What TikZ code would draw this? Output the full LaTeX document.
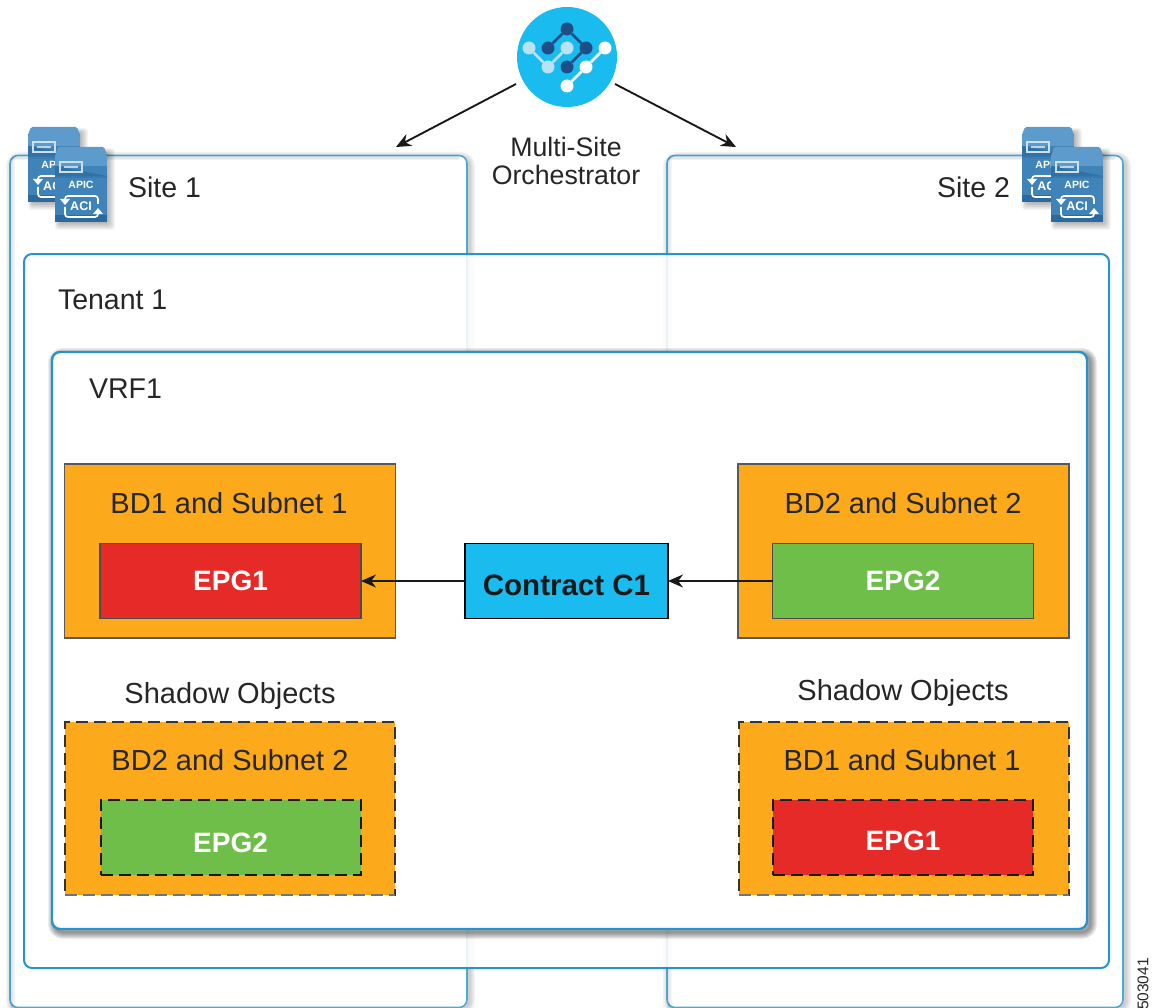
\documentclass[tikz,border=0pt]{standalone}
\usepackage{fontspec}
\setmainfont{Liberation Sans}
\usetikzlibrary{arrows.meta,positioning}
\definecolor{linebl}{HTML}{2494CC}
\definecolor{sitebl}{HTML}{4FA9CF}
\definecolor{orangeb}{HTML}{FCA91C}
\definecolor{redb}{HTML}{E52A27}
\definecolor{greenb}{HTML}{6FBE4A}
\definecolor{cyanb}{HTML}{1ABBEE}
\definecolor{icontop}{HTML}{5C9BCB}
\definecolor{iconmid}{HTML}{3F83B8}
\definecolor{icondark}{HTML}{2A6A9E}
\definecolor{netdark}{HTML}{1D4F86}
\definecolor{netlight}{HTML}{B9E3F5}
\newcommand{\txt}[1]{\fontsize{#1}{#1}\selectfont}
\newcommand{\lowr}[2]{\raisebox{0pt}[#1][0pt]{#2}}
\tikzset{
  x=1pt,y=-1pt,
  boxbase/.style={rectangle,inner sep=0pt,outer sep=0pt,anchor=center},
  sitebox/.style={boxbase,draw=sitebl,line width=1.6pt,rounded corners=8pt,fill=white,minimum width=#1,minimum height=852pt},
  tenantbox/.style={boxbase,draw=linebl,line width=2pt,rounded corners=8pt,fill=white,fill opacity=.88,minimum width=1085pt,minimum height=714pt},
  vrfbox/.style={boxbase,draw=linebl,line width=2.4pt,rounded corners=8pt,fill=white,minimum width=1035pt,minimum height=577pt},
  bdbox/.style={boxbase,draw=black!65,line width=1.5pt,fill=orangeb,minimum width=331pt,minimum height=174pt},
  bdshadow/.style={boxbase,draw=black!80,line width=2pt,dash pattern=on 12pt off 6pt,fill=orangeb,minimum width=330pt,minimum height=173pt},
  bdshadowedge/.style={draw=black!55,line width=2pt,dash pattern=on 12pt off 6pt},
  epgbox/.style={boxbase,draw=black!70,line width=1.5pt,fill=#1,minimum width=261pt,minimum height=75pt,text=white,font=\txt{28}\bfseries},
  epgshadow/.style={boxbase,draw=black!90,line width=2pt,dash pattern=on 12pt off 6pt,fill=#1,minimum width=260pt,minimum height=75pt,text=white,font=\txt{28}\bfseries},
  contractbox/.style={boxbase,draw=black,line width=1.3pt,fill=cyanb,minimum width=203pt,minimum height=75pt,font=\txt{29.5}\bfseries,text=black!90},
  label/.style={inner sep=0pt,outer sep=0pt,font=\txt{29},text=black!85},
  shortlabel/.style={inner sep=0pt,outer sep=0pt,font=\txt{28.5},text=black!85},
  orchlabel/.style={inner sep=0pt,outer sep=0pt,font=\txt{26.7},text=black!85,align=center},
  flow/.style={draw=black!90,line width=1.9pt,-{Stealth[length=15pt,width=13pt]}},
  softline/.style={draw=black,line width=#1,opacity=.05,rounded corners=8pt},
  netdot/.style={circle,inner sep=0pt,minimum size=13pt},
  netline/.style={line width=2.8pt},
  iconpic/.pic={
    % soft shadow
    \foreach \w in {1,2,3,4,5,6,7,8}{
      \fill[black,opacity=.04,rounded corners=3pt] (5-\w*.6,6-\w*.6) rectangle (52+\w,75+\w);
    }
    \fill[icondark] (0,65) rectangle (52,75);
    \fill[iconmid] (0,7) rectangle (52,68);
    \fill[icontop,rounded corners=1.5pt] (0,8) -- (3,0) -- (49,0) -- (52,8) -- cycle;
    \fill[icontop] (0,8) rectangle (52,19);
    \fill[icondark!70!iconmid] (0,19) -- (52,29) -- (0,29) -- cycle;
    \fill[icondark!40!iconmid] (0,29) rectangle (52,31);
    \draw[white!75!iconmid,line width=1.3pt] (5,15) rectangle (27,25);
    \draw[white!65!iconmid,line width=1.6pt] (9,20) -- (23,20);
    \node[inner sep=0pt,text=white,font=\txt{10.5}\bfseries] at (26,38) {APIC};
    \node[inner sep=0pt,text=white,font=\txt{12.5}\bfseries] at (26,59) {ACI};
    \draw[white,line width=1.7pt,rounded corners=3pt] (43,57) -- (43,49) -- (10,49) -- (10,53);
    \draw[white,line width=1.7pt,rounded corners=3pt] (10,60) -- (10,70) -- (43,70) -- (43,66);
    \fill[white] (5,52) -- (15,52) -- (10,58) -- cycle;
    \fill[white] (38,67) -- (48,67) -- (43,61) -- cycle;
  }
}
\begin{document}
\begin{tikzpicture}
\useasboundingbox (0,0) rectangle (1158,1008);

% --- site boxes with soft glow
\foreach \cx/\wd in {238.5/457,895/456}{
  \foreach \w in {3pt,6pt,9pt,12pt}{
    \draw[softline=\w] (\cx-\wd/2+2,158) rectangle (\cx+\wd/2+2,1009);
  }
}
\node[sitebox=457pt] (site1) at (238.5,581.5) {};
\node[sitebox=456pt] (site2) at (895,581.5) {};
\foreach \cx/\wd in {238.5/457,895/456}{
  \foreach \w in {2pt,5pt}{
    \draw[softline=\w] (\cx-\wd/2+2,158) -- (\cx+\wd/2-8,158);
    \draw[softline=\w] (\cx-\wd/2+2,158) -- (\cx-\wd/2+2,1008);
  }
}
\node[shortlabel,anchor=west] (site1txt) at (128,187) {Site 1};
\node[shortlabel,anchor=east] (site2txt) at (1010,187) {Site 2};

% --- APIC icons
\pic at (28,127) {iconpic};
\pic at (55,147) {iconpic};
\pic at (1022,127) {iconpic};
\pic at (1051,147) {iconpic};

% --- tenant
\node[tenantbox] (tenant) at (566.5,611) {};
\node[shortlabel,anchor=west] (tenanttxt) at (58,300) {Tenant 1};

% --- VRF with shadow
\foreach \w in {2pt,4pt,6pt,8pt,10pt,12pt,14pt}{
  \draw[softline=\w,opacity=.07] (55,355) rectangle (1090,932);
}
\node[vrfbox] (vrf) at (569.5,640.5) {};
\node[shortlabel,anchor=west] (vrftxt) at (89,389) {VRF1};

% --- real objects
\node[bdbox] (bdA) at (230,551) {};
\node[label] (bdAtxt) at (229,503) {BD1 and Subnet 1};
\node[epgbox=redb] (epgA) at (230.5,581) {EPG1};

\node[bdbox] (bdB) at (903.5,551) {};
\node[label] (bdBtxt) at (903,503) {BD2 and Subnet 2};
\node[epgbox=greenb] (epgB) at (903,581) {EPG2};

\node[contractbox] (contract) at (566.5,581) {\lowr{29pt}{Contract C1}};

% --- shadow objects
\node[label] (shA) at (230,696) {Shadow Objects};
\node[bdshadow] (bdC) at (230,808.5) {};
\draw[bdshadowedge] (bdC.south west) -- (bdC.south east);
\node[label] (bdCtxt) at (230,760) {BD2 and Subnet 2};
\node[epgshadow=greenb] (epgC) at (230.5,837.5) {\lowr{30pt}{EPG2}};

\node[label] (shB) at (903,693) {Shadow Objects};
\node[bdshadow] (bdD) at (903.5,808.5) {};
\draw[bdshadowedge] (bdD.south west) -- (bdD.south east);
\node[label] (bdDtxt) at (902,760) {BD1 and Subnet 1};
\node[epgshadow=redb] (epgD) at (903,837.5) {\lowr{26pt}{EPG1}};

% --- connectors
\draw[flow] (epgB.west) -- (contract.east);
\draw[flow] (contract.west) -- (epgA.east);

% --- orchestrator
\node[circle,fill=cyanb,inner sep=0pt,minimum size=100pt] (mso) at (567,57) {};
\node[netdot,fill=netdark] (d1) at (567,29) {};
\node[netdot,fill=netdark] (d2) at (548,48) {};
\node[netdot,fill=netdark] (d3) at (586,48) {};
\node[netdot,fill=netdark] (d4) at (567,67) {};
\draw[netline,netdark] (d2) -- (d1) -- (d3) -- (d4);
\node[netdot,fill=netlight] (l1) at (529,48) {};
\node[netdot,fill=netlight] (l2) at (548,67) {};
\node[netdot,fill=netlight] (l3) at (567,48) {};
\draw[netline,netlight] (l1) -- (l2) -- (l3);
\node[netdot,fill=white] (w1) at (605,48) {};
\node[netdot,fill=white] (w2) at (586,67) {};
\node[netdot,fill=white] (w3) at (567,86) {};
\draw[netline,white] (w1) -- (w2) -- (w3);
\node[orchlabel] (msotxt) at (566,161) {Multi-Site\\[1.5pt]Orchestrator};

\coordinate (endA) at (396,147);
\coordinate (endB) at (736,147);
\coordinate (startA) at (516,84);
\coordinate (startB) at (615,84);
\draw[flow] (startA) -- (endA);
\draw[flow] (startB) -- (endB);

% --- figure number
\node[inner sep=0pt,rotate=90,font=\txt{15.5},text=black!85] (fignum) at (1143,984) {503041};
\end{tikzpicture}
\end{document}
